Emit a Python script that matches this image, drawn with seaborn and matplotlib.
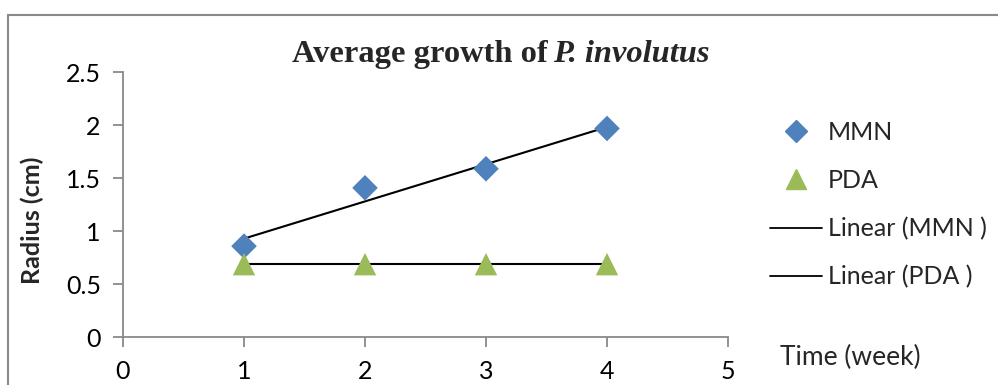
import matplotlib
matplotlib.use("Agg")
import matplotlib.pyplot as plt
import seaborn as sns
import pandas as pd
from matplotlib.lines import Line2D
from matplotlib.patches import Rectangle

weeks = [1, 2, 3, 4]
mmn = [0.86, 1.41, 1.59, 1.97]
pda = [0.69, 0.69, 0.69, 0.69]
x_ticks = [0, 1, 2, 3, 4, 5]
y_ticks = [0, 0.5, 1, 1.5, 2, 2.5]
y_tick_labels = ["0", "0.5", "1", "1.5", "2", "2.5"]

sns.set_style("white")
plt.rcParams['font.family'] = ['Lato', 'DejaVu Sans']

W, H = 998, 385
fig = plt.figure(figsize=(W / 100, H / 100), dpi=100)
ax = fig.add_axes([123 / W, 1 - 337.3 / H, (728 - 123) / W, (337.3 - 72.3) / H])

grey = "#898989"
blue = "#4F81BD"
green = "#9BBB59"

df = pd.DataFrame({"week": weeks, "MMN": mmn, "PDA": pda})

sns.regplot(data=df, x="week", y="MMN", scatter=False, ci=None, ax=ax,
            line_kws=dict(color="black", lw=1.5, zorder=2))
sns.regplot(data=df, x="week", y="PDA", scatter=False, ci=None, ax=ax,
            line_kws=dict(color="black", lw=1.5, zorder=2))
sns.scatterplot(data=df, x="week", y="MMN", marker="D", s=170, color=blue,
                edgecolor="none", ax=ax, zorder=3)
sns.scatterplot(data=df, x="week", y="PDA", marker="^", s=260, color=green,
                edgecolor="none", ax=ax, zorder=3)

ax.set_xlim(0, 5)
ax.set_ylim(0, 2.5)
ax.set_xticks(x_ticks)
ax.set_xticklabels([str(t) for t in x_ticks])
ax.set_yticks(y_ticks)
ax.set_yticklabels(y_tick_labels)
ax.set_xlabel("")
ax.set_ylabel("")
for s in ["top", "right"]:
    ax.spines[s].set_visible(False)
for s in ["left", "bottom"]:
    ax.spines[s].set_color(grey)
    ax.spines[s].set_linewidth(1.3)
ax.tick_params(axis="both", direction="out", length=7, width=1.3, color=grey,
               labelsize=18, labelcolor="black", left=True, bottom=True)
ax.tick_params(axis="x", pad=9)
ax.tick_params(axis="y", pad=9)

# Y label
fig.text(32 / W, 1 - 220 / H, "Radius (cm)", rotation=90, ha="center", va="center",
         fontsize=18, fontweight="bold")
# X label
fig.text(780 / W, 1 - 357 / H, "Time (week)", ha="left", va="center", fontsize=19)

# Title
ty = 1 - 62 / H
fig.text(292 / W, ty, "Average growth of", ha="left", va="baseline",
         fontsize=23.4, fontweight="bold", family="Liberation Serif")
fig.text(553 / W, ty, "P. involutus", ha="left", va="baseline",
         fontsize=23.4, fontweight="bold", style="italic", family="Liberation Serif")

# Legend
handles = [
    Line2D([], [], marker="D", color=blue, linestyle="none", markersize=11),
    Line2D([], [], marker="^", color=green, linestyle="none", markersize=15),
    Line2D([], [], color="black", lw=1.3),
    Line2D([], [], color="black", lw=1.3),
]
labels = ["MMN", "PDA", "Linear (MMN )", "Linear (PDA )"]
fig.legend(handles, labels, loc="upper left", bbox_to_anchor=(747 / W, 1 - 98.5 / H),
           frameon=False, fontsize=18, labelspacing=1.0, handlelength=2.08,
           handletextpad=0.25)

# Outer chart border (clipped by figure edges)
fig.patches.append(Rectangle((8 / W, -0.1), 1.2, 1 - 15 / H + 0.1,
                             transform=fig.transFigure, fill=False,
                             edgecolor=grey, lw=1.5))

fig.savefig("out.png", dpi=100, facecolor="white")
